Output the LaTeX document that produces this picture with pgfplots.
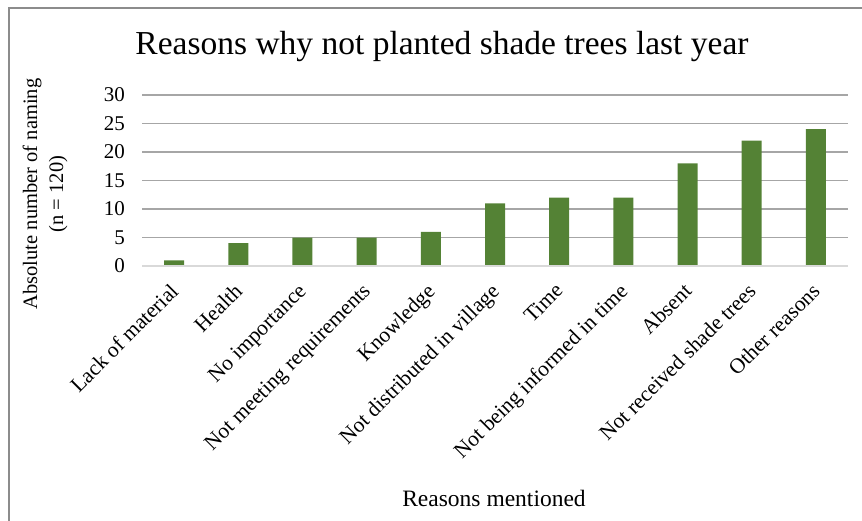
\documentclass[border=0pt]{standalone}
\usepackage{fontspec}
\setmainfont{Liberation Serif}
\usepackage{pgfplots}
\pgfplotsset{compat=1.18}
\definecolor{barg}{HTML}{548235}
\definecolor{gridc}{HTML}{A6A6A6}
\definecolor{axisc}{HTML}{D9D9D9}
\definecolor{framec}{HTML}{8C8C8C}
\begin{document}
\begin{tikzpicture}[x=1pt,y=1pt]
\path[use as bounding box] (0,0) rectangle (862,-521);
\draw[color=framec, line width=1.2pt] (9,-521) -- (9,-8) -- (862,-8);
\node[font=\fontsize{33.5}{38}\selectfont] at (442,-46) {Reasons why not planted shade trees last year};
\node[font=\fontsize{20.5}{26}\selectfont, rotate=90, align=center] at (45,-194) {Absolute number of naming\\(n = 120)};
\node[font=\fontsize{23.5}{28}\selectfont] at (494,-498) {Reasons mentioned};
\begin{axis}[
  at={(142pt,-266pt)}, anchor=south west,
  scale only axis, width=706pt, height=171pt,
  ymin=0, ymax=30, ytick={0,5,...,30},
  xmin=-0.5, xmax=10.5,
  xtick={0,...,10},
  xticklabels={Lack of material,Health,No importance,Not meeting requirements,Knowledge,Not distributed in village,Time,Not being informed in time,Absent,Not received shade trees,Other reasons},
  axis line style={draw=none},
  major tick length=0pt,
  ymajorgrids, grid style={color=gridc, line width=1.1pt},
  /pgf/number format/assume math mode=true,
  yticklabel style={font=\fontsize{21}{24}\selectfont, anchor=east, inner sep=0pt, xshift=-17pt},
  xticklabel style={font=\fontsize{21.5}{24}\selectfont, rotate=45, anchor=north east, inner sep=0pt, xshift=-15pt, yshift=-7.5pt},
  ybar, bar width=20pt,
  clip=false,
]
\addplot[fill=barg, draw=none] coordinates {(0,1) (1,4) (2,5) (3,5) (4,6) (5,11) (6,12) (7,12) (8,18) (9,22) (10,24)};
\draw[color=axisc, line width=1.3pt] (axis cs:-0.5,0) -- (axis cs:10.5,0);
\end{axis}
\end{tikzpicture}
\end{document}
